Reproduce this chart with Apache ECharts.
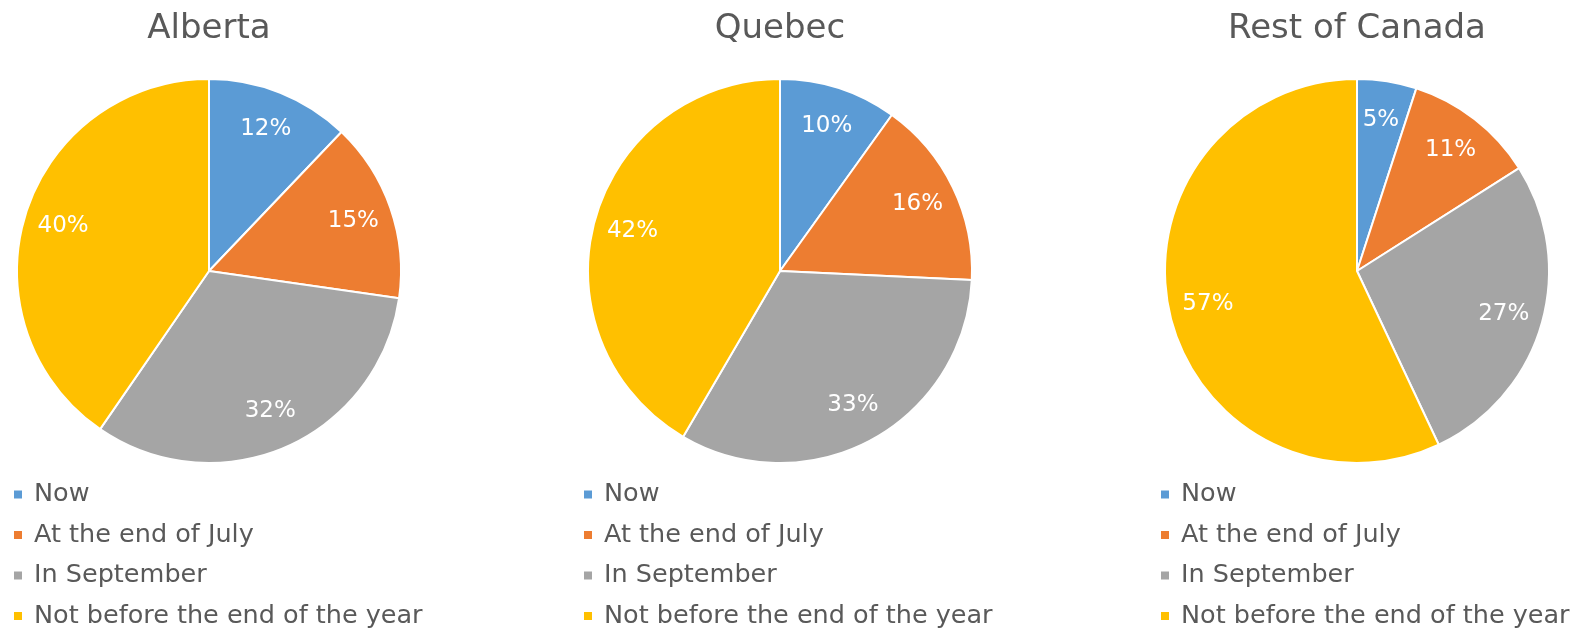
<!DOCTYPE html>
<html>
<head>
<meta charset="utf-8">
<script src="https://cdn.jsdelivr.net/npm/echarts@6/dist/echarts.min.js"></script>
<style>
html,body{margin:0;padding:0;background:#fff;}
#chart{width:1591px;height:629px;}
</style>
</head>
<body>
<div id="chart"></div>
<script>
const categories = ['Now', 'At the end of July', 'In September', 'Not before the end of the year'];
const regions = ['Alberta', 'Quebec', 'Rest of Canada'];
const alberta = [12, 15, 32, 40];
const quebec = [10, 16, 33, 42];
const restOfCanada = [5, 11, 27, 57];
const regionValues = [alberta, quebec, restOfCanada];

const colors = ['#5B9BD5', '#ED7D31', '#A5A5A5', '#FFC000'];
const centersX = [209, 780, 1357];
const centerY = 271;
const R = 192;
const legendLeft = [12, 582, 1159];
const FONT = '"DejaVu Sans", sans-serif';

const chart = echarts.init(document.getElementById('chart'), null, {renderer: 'canvas'});

const series = [];
regions.forEach((name, i) => {
  const data = categories.map((c, k) => ({name: c, value: regionValues[i][k]}));
  series.push({
    type: 'pie',
    name: name,
    center: [centersX[i], centerY],
    radius: [0, R],
    startAngle: 90,
    clockwise: true,
    avoidLabelOverlap: false,
    label: {show: false},
    labelLine: {show: false},
    itemStyle: {borderColor: '#ffffff', borderWidth: 2},
    emphasis: {disabled: true},
    data: data
  });
  series.push({
    type: 'pie',
    name: name + ' labels',
    center: [centersX[i], centerY],
    radius: [R * 0.56, R],
    startAngle: 90,
    clockwise: true,
    silent: true,
    avoidLabelOverlap: false,
    itemStyle: {color: 'rgba(0,0,0,0)', borderWidth: 0},
    label: {
      show: true,
      position: 'inside',
      formatter: '{c}%',
      color: '#ffffff',
      fontSize: 23,
      fontFamily: FONT
    },
    labelLine: {show: false},
    emphasis: {disabled: true},
    data: data
  });
});

const option = {
  backgroundColor: '#ffffff',
  color: colors,
  animation: false,
  title: regions.map((name, i) => ({
    text: name,
    left: centersX[i],
    top: 12,
    padding: 0,
    textAlign: 'center',
    textStyle: {color: '#595959', fontSize: 34, fontWeight: 'normal', fontFamily: FONT}
  })),
  legend: regions.map((name, i) => ({
    orient: 'vertical',
    left: legendLeft[i],
    top: 481,
    height: 170,
    width: 440,
    padding: 0,
    itemWidth: 10,
    itemHeight: 10,
    itemGap: 13.5,
    icon: 'rect',
    selectedMode: false,
    data: categories,
    textStyle: {color: '#595959', fontSize: 25.5, lineHeight: 27, fontFamily: FONT, padding: [0, 0, 0, 6]}
  })),
  series: series
};
chart.setOption(option);
</script>
</body>
</html>
